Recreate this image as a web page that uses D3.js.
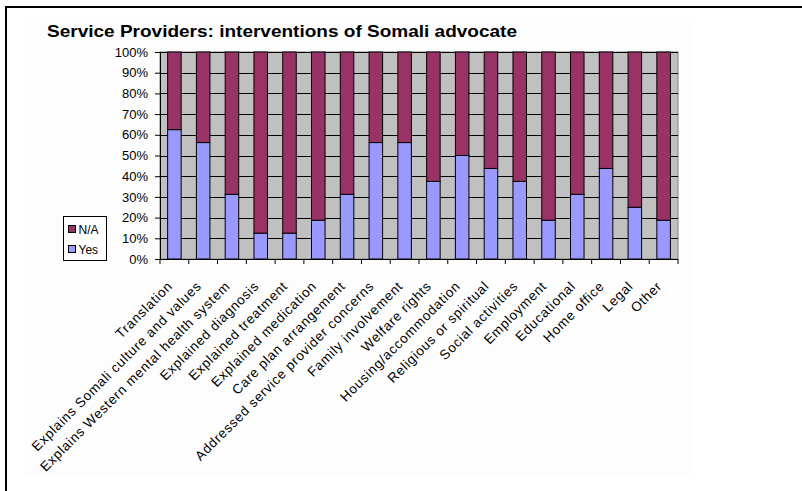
<!DOCTYPE html>
<html>
<head>
<meta charset="utf-8">
<script src="https://cdn.jsdelivr.net/npm/d3@7"></script>
<style>
  body { margin: 0; background: #fff; }
  svg { display: block; font-family: Arial, "Liberation Sans", sans-serif; }
</style>
</head>
<body>
<script>
// categories and values (percent of respondents)
var categories = ["Translation", "Explains Somali culture and values", "Explains Western mental health system",
    "Explained diagnosis", "Explained treatment", "Explained medication", "Care plan arrangement",
    "Addressed service provider concerns", "Family involvement", "Welfare rights", "Housing/accommodation",
    "Religious or spiritual", "Social activities", "Employment", "Educational", "Home office", "Legal", "Other"];
var yesValues = [62.5, 56.25, 31.25, 12.5, 12.5, 18.75, 31.25, 56.25, 56.25, 37.5, 50, 43.75, 37.5, 18.75, 31.25, 43.75, 25, 18.75];
var naValues = yesValues.map(function(v) { return 100 - v; });
var seriesNames = ["N/A", "Yes"];
var yTicks = [0, 10, 20, 30, 40, 50, 60, 70, 80, 90, 100];

var colors = {"N/A": "#993366", "Yes": "#9999FF"};

var width = 802, height = 491;
var plot = {left: 160, right: 678, top: 52, bottom: 259};

var svg = d3.select("body").append("svg")
    .attr("width", width)
    .attr("height", height);

// outer frame (cut off at right/bottom like the source)
svg.append("rect")
    .attr("x", 6).attr("y", 7)
    .attr("width", 820).attr("height", 520)
    .attr("fill", "#fff")
    .attr("stroke", "#000")
    .attr("stroke-width", 2);

// chart area
svg.append("rect")
    .attr("x", 25).attr("y", 17)
    .attr("width", 665).attr("height", 460)
    .attr("fill", "#fdfdfd");

// title
svg.append("text")
    .attr("x", 47).attr("y", 36.5)
    .attr("font-size", "17px")
    .attr("font-weight", "bold")
    .attr("fill", "#000")
    .attr("textLength", 470)
    .attr("lengthAdjust", "spacingAndGlyphs")
    .text("Service Providers: interventions of Somali advocate");

var x = d3.scaleBand()
    .domain(categories)
    .range([plot.left, plot.right])
    .paddingInner(0.53)
    .paddingOuter(0.265);

var y = d3.scaleLinear()
    .domain([0, 100])
    .range([plot.bottom, plot.top]);

// plot background
svg.append("rect")
    .attr("x", plot.left).attr("y", plot.top)
    .attr("width", plot.right - plot.left)
    .attr("height", plot.bottom - plot.top)
    .attr("fill", "#C0C0C0")
    .attr("stroke", "#808080");

// gridlines
svg.append("g").selectAll("line")
    .data(yTicks.slice(1))
    .enter().append("line")
    .attr("x1", plot.left).attr("x2", plot.right)
    .attr("y1", function(d) { return Math.round(y(d)) + 0.5; })
    .attr("y2", function(d) { return Math.round(y(d)) + 0.5; })
    .attr("stroke", "#000")
    .attr("stroke-width", 1);

// stacked bars
var rows = categories.map(function(c, i) {
    return {cat: c, "Yes": yesValues[i], "N/A": naValues[i]};
});
var stack = d3.stack().keys(["Yes", "N/A"])(rows);

svg.append("g").selectAll("g")
    .data(stack)
    .enter().append("g")
    .attr("fill", function(d) { return colors[d.key]; })
    .selectAll("rect")
    .data(function(d) { return d; })
    .enter().append("rect")
    .attr("x", function(d) { return x(d.data.cat); })
    .attr("y", function(d) { return y(d[1]); })
    .attr("width", x.bandwidth())
    .attr("height", function(d) { return y(d[0]) - y(d[1]); })
    .attr("stroke", "#000")
    .attr("stroke-width", 1);

// y axis
var yAxis = svg.append("g")
    .attr("transform", "translate(" + plot.left + ",0)")
    .call(d3.axisLeft(y).tickValues(yTicks).tickSize(5).tickPadding(7)
        .tickFormat(function(d) { return d + "%"; }));
yAxis.selectAll("text").attr("font-size", "13px").attr("fill", "#000").attr("font-family", "Arial, sans-serif");
yAxis.selectAll("line, path").attr("stroke", "#000");

// x axis with ticks at band boundaries
var step = x.step();
var xAxis = svg.append("g")
    .attr("transform", "translate(0," + plot.bottom + ")");
xAxis.append("line")
    .attr("x1", plot.left).attr("x2", plot.right)
    .attr("y1", 0.5).attr("y2", 0.5)
    .attr("stroke", "#000");
xAxis.selectAll("line.tick")
    .data(d3.range(categories.length + 1))
    .enter().append("line")
    .attr("class", "tick")
    .attr("x1", function(i) { return plot.left + i * step; })
    .attr("x2", function(i) { return plot.left + i * step; })
    .attr("y1", 0).attr("y2", 5)
    .attr("stroke", "#000");

xAxis.selectAll("text")
    .data(categories)
    .enter().append("text")
    .attr("transform", function(d) {
        return "translate(" + (x(d) + x.bandwidth() / 2 - 1) + ",28) rotate(-45)";
    })
    .attr("text-anchor", "end")
    .attr("font-size", "13.5px")
    .attr("letter-spacing", "0.7px")
    .attr("fill", "#000")
    .text(function(d) { return d; });

// legend
var legend = svg.append("g").attr("transform", "translate(63.5,216.5)");
legend.append("rect")
    .attr("width", 43).attr("height", 44)
    .attr("fill", "#fff")
    .attr("stroke", "#000");
legend.selectAll("g")
    .data(seriesNames)
    .enter().append("g")
    .attr("transform", function(d, i) { return "translate(5," + (9 + i * 20) + ")"; })
    .each(function(d) {
        var g = d3.select(this);
        g.append("rect")
            .attr("width", 7).attr("height", 7)
            .attr("fill", colors[d])
            .attr("stroke", "#000");
        g.append("text")
            .attr("x", 10).attr("y", 8)
            .attr("font-size", "12px")
            .attr("fill", "#000")
            .text(d);
    });
</script>
</body>
</html>
